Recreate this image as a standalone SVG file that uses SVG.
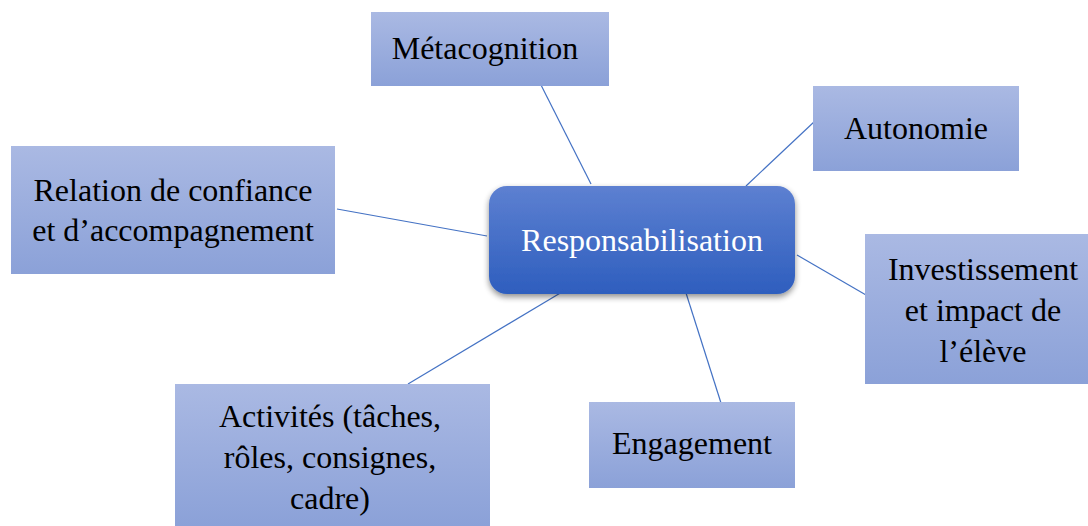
<svg xmlns="http://www.w3.org/2000/svg" width="1088" height="526" viewBox="0 0 1088 526">
<defs>
<linearGradient id="boxg" x1="0" y1="0" x2="0" y2="1">
<stop offset="0" stop-color="#AAB9E3"/>
<stop offset="1" stop-color="#8BA1D8"/>
</linearGradient>
<linearGradient id="cg" x1="0" y1="0" x2="0" y2="1">
<stop offset="0" stop-color="#5D80D1"/>
<stop offset="1" stop-color="#2E5EBE"/>
</linearGradient>
<filter id="sh" x="-10%" y="-20%" width="120%" height="150%">
<feGaussianBlur in="SourceAlpha" stdDeviation="3"/>
<feOffset dx="0" dy="3" result="b"/>
<feComponentTransfer><feFuncA type="linear" slope="0.45"/></feComponentTransfer>
<feMerge><feMergeNode/><feMergeNode in="SourceGraphic"/></feMerge>
</filter>
</defs>
<style>
.box{fill:url(#boxg);}
.t{font-family:'Liberation Serif','Times New Roman',Times,Tinos,'Noto Serif','Nimbus Roman','FreeSerif','DejaVu Serif',serif;font-size:32px;fill:#000;text-anchor:middle;}
.ct{font-family:'Liberation Serif','Times New Roman',Times,Tinos,'Noto Serif','Nimbus Roman','FreeSerif','DejaVu Serif',serif;font-size:32px;fill:#fff;text-anchor:middle;}
.ln{stroke:#4472C4;stroke-width:1.2;fill:none;}
</style>
<rect width="1088" height="526" fill="#fff"/>
<g id="connectors">
<line class="ln" x1="541" y1="85" x2="591" y2="184"/>
<line class="ln" x1="815" y1="121" x2="746" y2="186"/>
<line class="ln" x1="337" y1="209" x2="487" y2="236"/>
<line class="ln" x1="797" y1="255" x2="866" y2="295"/>
<line class="ln" x1="686" y1="293" x2="721" y2="403"/>
<line class="ln" x1="408" y1="384" x2="562" y2="292"/>
</g>
<g id="metacognition">
<rect class="box" x="371" y="12" width="238" height="74"/>
<text class="t" x="485" y="59">Métacognition</text>
</g>
<g id="autonomie">
<rect class="box" x="813" y="86" width="206" height="85"/>
<text class="t" x="916" y="139">Autonomie</text>
</g>
<g id="relation">
<rect class="box" x="11" y="146" width="324" height="128"/>
<text class="t" x="173" y="201">Relation de confiance</text>
<text class="t" x="173" y="241">et d’accompagnement</text>
</g>
<g id="investissement">
<rect class="box" x="865" y="234" width="223" height="150"/>
<text class="t" x="983" y="280">Investissement</text>
<text class="t" x="983" y="321">et impact de</text>
<text class="t" x="983" y="362">l’élève</text>
</g>
<g id="activites">
<rect class="box" x="175" y="384" width="315" height="142"/>
<text class="t" x="330" y="427">Activités (tâches,</text>
<text class="t" x="330" y="468">rôles, consignes,</text>
<text class="t" x="330" y="509">cadre)</text>
</g>
<g id="engagement">
<rect class="box" x="589" y="402" width="206" height="86"/>
<text class="t" x="692" y="454">Engagement</text>
</g>
<g id="responsabilisation">
<rect x="489" y="186" width="306" height="108" rx="18" ry="18" fill="url(#cg)" filter="url(#sh)"/>
<text class="ct" x="642" y="251">Responsabilisation</text>
</g>
</svg>
